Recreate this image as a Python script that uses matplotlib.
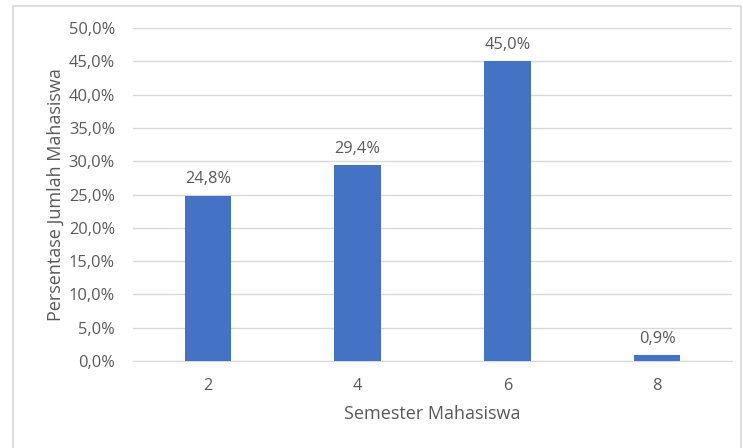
import matplotlib.pyplot as plt
from matplotlib.patches import Rectangle
from matplotlib.ticker import FuncFormatter

semesters = ["2", "4", "6", "8"]
percentages = [24.8, 29.4, 45.0, 0.9]

plt.rcParams['font.family'] = ['Open Sans', 'DejaVu Sans']
text_color = '#595959'

W, H = 743, 448
fig = plt.figure(figsize=(W / 100, H / 100), dpi=100)
ax = fig.add_axes([133 / W, 1 - 361 / H, (732 - 133) / W, (361 - 28) / H])

x = range(len(semesters))
bars = ax.bar(x, percentages, width=0.31, color='#4472C4', zorder=3)

for rect, val in zip(bars, percentages):
    ax.annotate(f"{val:.1f}%".replace('.', ','),
                (rect.get_x() + rect.get_width() / 2, rect.get_height()),
                xytext=(0, 6), textcoords='offset points',
                ha='center', va='bottom', fontsize=11.8, color=text_color)

ax.set_xlim(-0.5, len(semesters) - 0.5)
ax.set_ylim(0, 50)
ax.set_yticks(range(0, 51, 5))
ax.yaxis.set_major_formatter(FuncFormatter(lambda v, p: f"{v:.1f}%".replace('.', ',')))
ax.set_xticks(list(x))
ax.set_xticklabels(semesters)

ax.grid(axis='y', color='#d9d9d9', linewidth=1, zorder=0)
for side in ['top', 'right', 'left']:
    ax.spines[side].set_visible(False)
ax.spines['bottom'].set_color('#d9d9d9')
ax.tick_params(axis='both', length=0, labelsize=11.8, labelcolor=text_color)
ax.tick_params(axis='x', pad=12)
ax.tick_params(axis='y', pad=13)

ax.set_xlabel('Semester Mahasiswa', fontsize=13, color=text_color, labelpad=8)
ax.set_ylabel('Persentase Jumlah Mahasiswa', fontsize=13, color=text_color, labelpad=3)

fig.patches.append(Rectangle((13 / W, -0.05), (741 - 13) / W, 1.05 - 6 / H,
                             transform=fig.transFigure, fill=False,
                             edgecolor='#d9d9d9', linewidth=1.2))

fig.savefig('out.png', dpi=100)
